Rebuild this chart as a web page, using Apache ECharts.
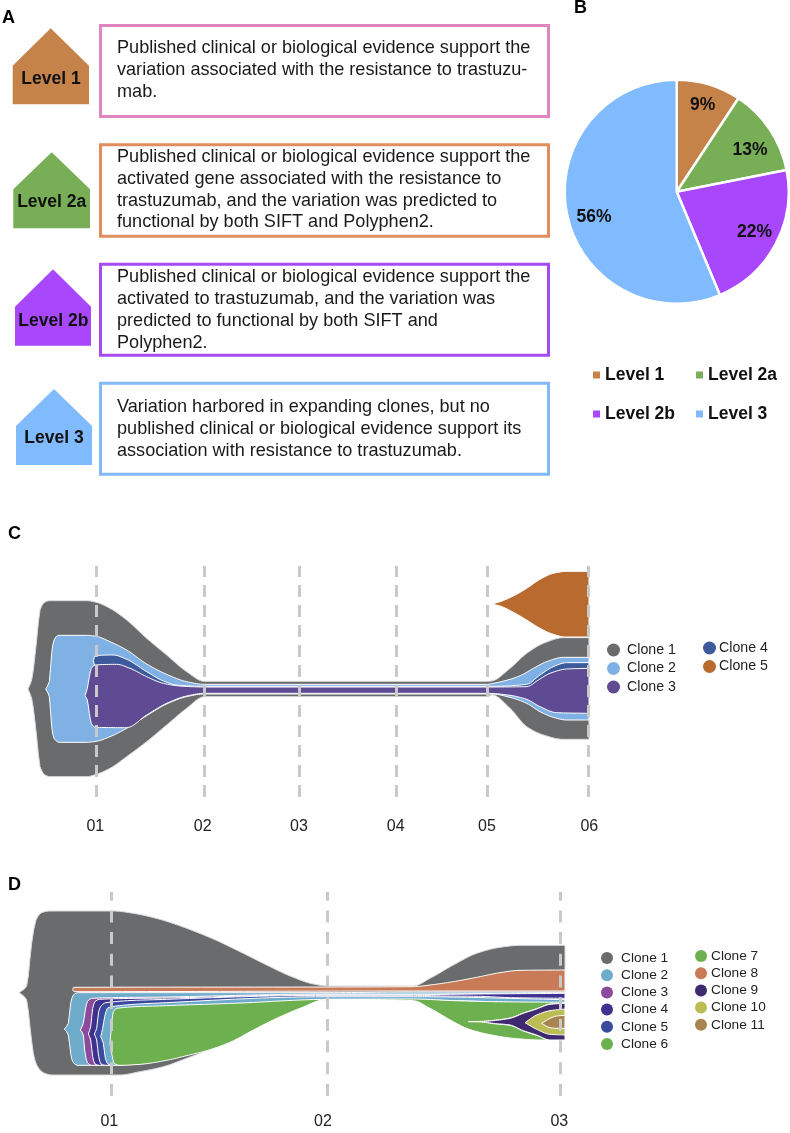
<!DOCTYPE html>
<html>
<head>
<meta charset="utf-8">
<style>html,body{margin:0;padding:0;background:#fff}#main{width:790px;height:1133px}</style>
<script src="https://cdn.jsdelivr.net/npm/echarts@6/dist/echarts.min.js"></script>
</head>
<body>
<div id="main"></div>
<script>
// ---------- Panel A / B content ----------
const levelNames = ['Level 1', 'Level 2a', 'Level 2b', 'Level 3'];
const levelColors = ['#c5834a', '#77ae56', '#a847fb', '#80baff'];
const boxColors = ['#e085c2', '#e08e5e', '#a64bf4', '#82b9f8'];
const levelTexts = [
  ['Published clinical or biological evidence support the', 'variation associated with the resistance to trastuzu-', 'mab.'],
  ['Published clinical or biological evidence support the', 'activated gene associated with the resistance to', 'trastuzumab, and the variation was predicted to', 'functional by both SIFT and Polyphen2.'],
  ['Published clinical or biological evidence support the', 'activated to trastuzumab, and the variation was', 'predicted to functional by both SIFT and', 'Polyphen2.'],
  ['Variation harbored in expanding clones, but no', 'published clinical or biological evidence support its', 'association with resistance to trastuzumab.']
];
const pieValues = [9.3, 12.6, 21.8, 56.3];

// ---------- Panel C ----------
const timesC = [0, 324, 608, 901, 1174, 1476];
const timeLabelsC = ['01', '02', '03', '04', '05', '06'];
const labelAnchorsC = [-3, 319, 608, 898, 1172, 1479];
const cloneNamesC = ['Clone 1', 'Clone 2', 'Clone 3', 'Clone 4', 'Clone 5'];
const cloneColorsC = ['#6a6b6d', '#7fb1e5', '#5f4b94', '#3c5a9c', '#b96a2f'];

const c1Upper = [[-205,0],[-194,27],[-179,147],[-169,237],[-154,261],[-139,265],[-29,265],[0,260],[41,242],[91,207],[151,152],[211,102],[271,52],[324,23],[608,23],[901,23],[1174,23],[1186,24],[1241,62],[1291,107],[1341,137],[1401,154],[1478,154]];
const c1Lower = [[-205,0],[-194,-28],[-179,-143],[-169,-233],[-154,-258],[-139,-263],[-29,-263],[0,-256],[41,-238],[91,-203],[151,-158],[211,-108],[271,-58],[324,-23],[608,-23],[901,-23],[1174,-23],[1186,-17],[1241,-58],[1291,-113],[1341,-138],[1401,-151],[1478,-151]];
const c2Upper = [[-152,0],[-141,22],[-134,107],[-127,147],[-114,161],[-29,161],[0,158],[41,142],[91,117],[151,75],[211,44],[271,22],[324,14],[608,14],[901,14],[1174,14],[1186,16],[1241,29],[1276,42],[1311,62],[1351,82],[1401,95],[1478,95]];
const c2Lower = [[-152,0],[-141,-23],[-134,-113],[-127,-148],[-111,-160],[-29,-160],[0,-157],[41,-143],[91,-118],[151,-80],[211,-45],[271,-23],[324,-15],[608,-15],[901,-15],[1174,-15],[1186,-15],[1241,-25],[1291,-43],[1331,-68],[1371,-85],[1411,-93],[1478,-93]];
const c3Upper = [[-34,-20],[-27,2],[-21,37],[-15,62],[-4,72],[61,74],[101,62],[151,37],[201,17],[251,9],[324,6],[608,6],[901,6],[1174,6],[1291,7],[1326,27],[1361,47],[1411,60],[1478,62]];
const c3Lower = [[-34,-20],[-27,-33],[-21,-73],[-15,-103],[-4,-115],[91,-116],[151,-78],[211,-43],[271,-21],[324,-13],[608,-13],[901,-13],[1174,-13],[1241,-19],[1291,-31],[1331,-53],[1381,-71],[1478,-73]];
const c4Upper = [[-9,85],[-4,100],[51,102],[91,89],[151,52],[201,24],[241,12],[324,8],[608,8],[901,8],[1186,8],[1291,14],[1331,42],[1371,67],[1411,79],[1478,79]];
const c4Lower = [[-9,85],[-4,70],[61,70],[101,55],[151,30],[201,12],[324,4],[1186,4],[1291,4],[1331,20],[1371,40],[1411,55],[1478,55]];
const c5Upper = [[1186,255],[1211,262],[1251,279],[1291,302],[1331,329],[1371,347],[1411,353],[1478,353]];
const c5Lower = [[1186,255],[1211,249],[1251,230],[1291,207],[1331,182],[1371,164],[1406,156],[1478,156]];

// ---------- Panel D ----------
const timesD = [0, 646, 1347];
const timeLabelsD = ['01', '02', '03'];
const labelAnchorsD = [-7, 634, 1343];
const cloneNamesD = ['Clone 1','Clone 2','Clone 3','Clone 4','Clone 5','Clone 6','Clone 7','Clone 8','Clone 9','Clone 10','Clone 11'];
const cloneColorsD = ['#6a6b6d','#6fabcb','#8b4a9c','#3f3190','#3b4a9f','#6db04f','#6db04f','#c97a56','#3f2a6f','#bcbc55','#a98450'];

const d1Upper = [[-277,0],[-255,20],[-240,148],[-227,218],[-210,240],[-185,245],[5,245],[65,238],[145,220],[225,193],[305,161],[385,123],[465,83],[545,46],[605,26],[650,20],[905,20],[955,43],[1025,83],[1095,118],[1165,136],[1225,142],[1347,142],[1360,142]];
const d1Lower = [[-277,0],[-255,-22],[-245,-102],[-235,-182],[-225,-217],[-205,-240],[-180,-247],[25,-247],[85,-237],[155,-222],[225,-197],[285,-174],[355,-146],[425,-109],[495,-74],[565,-44],[646,-18],[905,-15],[1360,-15]];
const d2Upper = [[-142,-109],[-130,-92],[-123,-32],[-115,-7],[-100,0],[646,0],[905,2],[1360,2]];
const d2Lower = [[-142,-109],[-130,-127],[-123,-182],[-117,-207],[-103,-218],[0,-218],[85,-212],[225,-186],[355,-146],[495,-74],[646,-18],[905,-21],[1360,-30]];
const d3Upper = [[-94,-112],[-85,-92],[-79,-52],[-73,-27],[-60,-17],[165,-13],[646,-4],[905,-4],[1360,0]];
const d3Lower = [[-94,-112],[-85,-127],[-81,-172],[-73,-210],[-60,-218],[100,-200],[300,-150],[646,-22],[905,-22],[1360,-35]];
const d4Upper = [[-70,-124],[-63,-102],[-57,-47],[-50,-27],[-37,-20],[165,-16],[646,-6],[905,-6],[1100,-4],[1360,-2]];
const d4Lower = [[-70,-124],[-63,-142],[-57,-192],[-50,-214],[-37,-218],[100,-200],[300,-150],[646,-22],[905,-22],[1360,-35]];
const d5Upper = [[-52,-124],[-45,-107],[-39,-57],[-32,-40],[-17,-30],[165,-20],[646,-8],[905,-8],[1000,-10],[1100,-11],[1200,-15],[1360,-17]];
const d5Lower = [[-52,-124],[-45,-142],[-39,-192],[-32,-214],[-17,-218],[100,-200],[300,-150],[646,-22],[905,-22],[1360,-35]];
const d5bUpper = [[-33,-132],[-27,-107],[-21,-72],[-13,-47],[0,-42],[165,-30],[646,-12],[905,-12],[1360,-21]];
const d5bLower = [[-33,-132],[-25,-152],[-19,-197],[-10,-215],[5,-218],[100,-200],[300,-150],[646,-22],[905,-22],[1360,-35]];
const d6Upper = [[-5,-152],[0,-92],[5,-57],[15,-47],[165,-39],[365,-32],[646,-20],[905,-19],[1025,-24],[1145,-27],[1360,-29]];
const d6Lower = [[-5,-152],[0,-182],[7,-212],[25,-218],[85,-215],[165,-203],[225,-189],[285,-174],[355,-149],[425,-112],[495,-77],[565,-47],[646,-20],[905,-24],[955,-47],[1025,-87],[1065,-107],[1125,-124],[1205,-137],[1285,-142],[1360,-142]];
const d7Upper = [[1070,-87],[1110,-86],[1145,-83],[1195,-76],[1235,-61],[1275,-48],[1315,-34],[1360,-31]];
const d7Lower = [[1070,-87],[1110,-88],[1145,-93],[1195,-98],[1235,-115],[1275,-128],[1315,-142],[1360,-142]];
const d8Upper = [[-117,9],[-114,16],[646,17],[905,18],[955,23],[1025,33],[1095,46],[1165,60],[1225,67],[1360,68]];
const d8Lower = [[-117,9],[-113,3],[905,5],[1360,5]];
const d9Upper = [[1110,-87],[1145,-84],[1195,-77],[1235,-62],[1275,-49],[1315,-35],[1360,-32]];
const d9Lower = [[1110,-87],[1145,-92],[1195,-97],[1235,-114],[1275,-127],[1315,-142],[1360,-142]];
const d10Upper = [[1240,-90],[1275,-67],[1315,-54],[1360,-49]];
const d10Lower = [[1240,-90],[1275,-110],[1315,-125],[1360,-127]];
const d11Upper = [[1290,-92],[1315,-77],[1335,-70],[1360,-68]];
const d11Lower = [[1290,-92],[1315,-105],[1335,-107],[1360,-107]];

// ---------- Helpers ----------
const FONT = '"Liberation Sans", Arial, sans-serif';

// monotone cubic curve through read points (no overshoot), sampled for drawing
function curve(points) {
  const n = points.length, out = [];
  if (n < 3) return points.slice();
  const d = [], m = new Array(n);
  for (let i = 0; i < n - 1; i++) d[i] = (points[i+1][1] - points[i][1]) / (points[i+1][0] - points[i][0]);
  m[0] = d[0]; m[n-1] = d[n-2];
  for (let i = 1; i < n - 1; i++) {
    if (d[i-1] * d[i] <= 0) m[i] = 0;
    else {
      const h0 = points[i][0] - points[i-1][0], h1 = points[i+1][0] - points[i][0];
      const w1 = 2*h1 + h0, w2 = h1 + 2*h0;
      m[i] = (w1 + w2) / (w1 / d[i-1] + w2 / d[i]);
    }
  }
  for (let i = 0; i < n - 1; i++) {
    const [x0, y0] = points[i], [x1, y1] = points[i+1], h = x1 - x0;
    const flat = y0 === y1 && m[i] === 0 && m[i+1] === 0;
    const steps = flat ? 1 : Math.max(2, Math.min(14, Math.round(h / 6)));
    for (let s = 0; s < steps; s++) {
      const t = s / steps, t2 = t*t, t3 = t2*t;
      out.push([x0 + t*h,
        (2*t3-3*t2+1)*y0 + (t3-2*t2+t)*h*m[i] + (-2*t3+3*t2)*y1 + (t3-t2)*h*m[i+1]]);
    }
  }
  out.push(points[n-1]);
  return out;
}

function band(name, color, upper, lower, axisIndex, stroke) {
  return {
    type: 'custom', name, coordinateSystem: 'cartesian2d',
    xAxisIndex: axisIndex, yAxisIndex: axisIndex, clip: false, silent: true,
    encode: { x: 0, y: 1 },
    data: upper.concat(lower),
    itemStyle: { color },
    renderItem(params, api) {
      if (params.dataIndex !== 0) return null;
      const outline = curve(upper).concat(curve(lower).reverse()).map(p => api.coord(p));
      return { type: 'polygon', shape: { points: outline },
        style: { fill: color, stroke: stroke || '#ffffff', lineWidth: 1, lineJoin: 'round' } };
    }
  };
}

function guides(times, dash) {
  return { silent: true, symbol: 'none', animation: false, z: 10, label: { show: false },
    lineStyle: { color: '#c9c9c9', width: 3, type: dash, opacity: 1 },
    emphasis: { disabled: true },
    data: times.map(t => ({ xAxis: t })) };
}

function fishX(gridIndex, min, max, anchors, labels, margin) {
  return { type: 'value', gridIndex, min, max,
    axisLine: { show: false }, axisTick: { show: false }, splitLine: { show: false },
    axisLabel: { customValues: anchors, margin, fontSize: 16, color: '#222', fontFamily: FONT,
      formatter: v => labels[anchors.indexOf(v)] } };
}
function fishY(gridIndex, min, max) {
  return { type: 'value', gridIndex, min, max, show: false, splitLine: { show: false } };
}

function cloneLegend(names, colors, picks, left, top, gap, size, fontSize, pad) {
  return { orient: 'vertical', left, top, padding: 0, itemGap: gap, itemWidth: size, itemHeight: size,
    icon: 'circle', selectedMode: false,
    itemStyle: { borderWidth: 0 },
    textStyle: { fontFamily: FONT, fontSize, color: '#222', padding: [0, 0, 0, pad] },
    data: picks.map(i => ({ name: names[i], itemStyle: { color: colors[i] }, icon: 'circle' })) };
}
function levelLegend(picks, left, top) {
  return { orient: 'vertical', left, top, padding: 0, itemGap: 21, itemWidth: 7, itemHeight: 7,
    icon: 'rect', selectedMode: false,
    itemStyle: { borderWidth: 0 },
    textStyle: { fontFamily: FONT, fontSize: 17.5, fontWeight: 'bold', color: '#111' },
    data: picks.map(i => levelNames[i]) };
}

// ---------- Panel A drawing ----------
const boxFrames = [[100.5,25.5,448,91],[100.5,144.8,448,91.5],[100.5,264.2,448,91],[100.5,383.2,448,91]];
const houseFrames = [[12.7,89,50.7,28.3,65.7,104.3],[13.3,90,51.7,152.3,189.3,228.3],[15,91,53,269.3,306.7,345.7],[16,92,54,389,426,465]];
const houseLabelPos = [[51,79],[51.7,201.7],[53.3,320.7],[54,438.3]];
const textBaselines = [[54.3,76.3,98.3],[163.3,185,206.7,228.3],[283.3,305,326.7,349],[413.3,435.3,457.3]];
const panelLetters = [['A',2,18],['B',574,8],['C',8,534],['D',8,885]];

const graphic = [];
levelNames.forEach((name, i) => {
  const [l, r, ax, ay, sy, by] = houseFrames[i];
  graphic.push({ type: 'polygon', silent: true, shape: { points: [[ax,ay],[r,sy],[r,by],[l,by],[l,sy]] }, style: { fill: levelColors[i] } });
  graphic.push({ type: 'text', silent: true, x: houseLabelPos[i][0], y: houseLabelPos[i][1],
    style: { text: name, fontFamily: FONT, fontSize: 17.5, fontWeight: 'bold', fill: '#111', align: 'center', verticalAlign: 'middle' } });
  const [bx, by2, bw, bh] = boxFrames[i];
  graphic.push({ type: 'rect', silent: true, shape: { x: bx, y: by2, width: bw, height: bh }, style: { fill: '#fff', stroke: boxColors[i], lineWidth: 3 } });
  levelTexts[i].forEach((line, j) => {
    graphic.push({ type: 'text', silent: true, x: 117, y: textBaselines[i][j] - 6.2,
      style: { text: line, fontFamily: FONT, fontSize: 18.1, fill: '#1a1a1a', align: 'left', verticalAlign: 'middle' } });
  });
});
panelLetters.forEach(([t, x, y]) => {
  graphic.push({ type: 'text', silent: true, x, y,
    style: { text: t, fontFamily: FONT, fontSize: 18, fontWeight: 'bold', fill: '#000', align: 'left', verticalAlign: 'middle' } });
});

// ---------- Option ----------
const PIE_CENTER = [676.7, 191.7];
const pieLabelShift = [[-8, 1], [-6, 17], [-5, -10], [-6, 14]];
const option = {
  animation: false,
  backgroundColor: '#fff',
  graphic,
  grid: [
    { left: 20, width: 600, top: 566, height: 231, containLabel: false },
    { left: 10, width: 600, top: 892, height: 204, containLabel: false }
  ],
  xAxis: [
    fishX(0, -229, 1571, labelAnchorsC, timeLabelsC, 22),
    fishX(1, -305, 1495, labelAnchorsD, timeLabelsD, 18)
  ],
  yAxis: [ fishY(0, -324, 369), fishY(1, -310, 302) ],
  legend: [
    levelLegend([0, 2], 593, 366),
    levelLegend([1, 3], 696, 366),
    cloneLegend(cloneNamesC, cloneColorsC, [0, 1, 2], 607, 643, 4.5, 13, 14.2, 2),
    cloneLegend(cloneNamesC, cloneColorsC, [3, 4], 703, 641, 4.5, 13, 14.2, -2),
    cloneLegend(cloneNamesD, cloneColorsD, [0, 1, 2, 3, 4, 5], 601, 951, 3.2, 12, 13.7, 3),
    cloneLegend(cloneNamesD, cloneColorsD, [6, 7, 8, 9, 10], 695, 949, 3.2, 12, 13.7, -1)
  ],
  series: [
    { type: 'pie', center: PIE_CENTER, radius: 112, startAngle: 90, clockwise: true, silent: true,
      itemStyle: { borderColor: '#fff', borderWidth: 2.5 },
      label: { position: 'inside', fontFamily: FONT, fontSize: 17.5, fontWeight: 'bold', color: '#111',
        formatter: p => Math.round(p.value) + '%' },
      labelLine: { show: false },
      labelLayout: p => {
        const dx = p.rect.x + p.rect.width / 2 - PIE_CENTER[0], dy = p.rect.y + p.rect.height / 2 - PIE_CENTER[1];
        const s = pieLabelShift[p.dataIndex];
        return { dx: dx * 0.55 + s[0], dy: dy * 0.55 + s[1] };
      },
      data: levelNames.map((name, i) => ({ name, value: pieValues[i], itemStyle: { color: levelColors[i] } })) },

    band('Clone 1', cloneColorsC[0], c1Upper, c1Lower, 0, '#dcdcdc'),
    band('Clone 2', cloneColorsC[1], c2Upper, c2Lower, 0),
    band('Clone 4', cloneColorsC[3], c4Upper, c4Lower, 0),
    band('Clone 3', cloneColorsC[2], c3Upper, c3Lower, 0),
    Object.assign(band('Clone 5', cloneColorsC[4], c5Upper, c5Lower, 0), { markLine: guides(timesC, [12, 8]) }),

    band('Clone 1', cloneColorsD[0], d1Upper, d1Lower, 1, '#dcdcdc'),
    band('Clone 2', cloneColorsD[1], d2Upper, d2Lower, 1),
    band('Clone 3', cloneColorsD[2], d3Upper, d3Lower, 1),
    band('Clone 4', cloneColorsD[3], d4Upper, d4Lower, 1),
    band('Clone 5', cloneColorsD[4], d5Upper, d5Lower, 1),
    band('Clone 2', cloneColorsD[1], d5bUpper, d5bLower, 1),
    band('Clone 6', cloneColorsD[5], d6Upper, d6Lower, 1),
    band('Clone 7', cloneColorsD[6], d7Upper, d7Lower, 1),
    band('Clone 8', cloneColorsD[7], d8Upper, d8Lower, 1),
    band('Clone 9', cloneColorsD[8], d9Upper, d9Lower, 1),
    band('Clone 10', cloneColorsD[9], d10Upper, d10Lower, 1),
    Object.assign(band('Clone 11', cloneColorsD[10], d11Upper, d11Lower, 1), { markLine: guides(timesD, [12, 9.7]) })
  ]
};

const chart = echarts.init(document.getElementById('main'), null, { renderer: 'canvas', width: 790, height: 1133 });
chart.setOption(option);
</script>
</body>
</html>
